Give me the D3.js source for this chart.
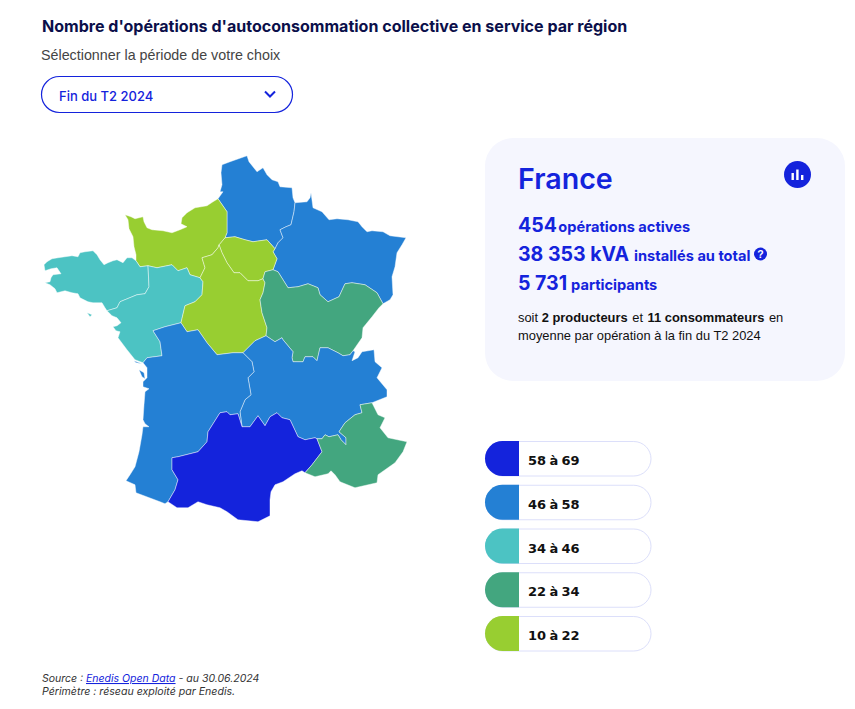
<!DOCTYPE html>
<html lang="fr">
<head>
    <meta charset="UTF-8">
    <title>Nombre d'opérations d'autoconsommation collective en service par région</title>
    <script src="https://cdn.jsdelivr.net/npm/d3@7"></script>
    <style>
        html, body { margin: 0; background: #fff; }
        svg { display: block; }
        .grot { font-family: Inter, sans-serif; }
        .arial { font-family: "Liberation Sans", sans-serif; }
    </style>
</head>
<body>
    <div id="chart"></div>
    <script>
        // Region values (estimated from the colour classes, total 454)
        const regionNames = ["Hauts-de-France", "Grand Est", "Île-de-France", "Normandie", "Bretagne", "Pays de la Loire",
            "Centre-Val de Loire", "Bourgogne-Franche-Comté", "Auvergne-Rhône-Alpes", "Nouvelle-Aquitaine", "Occitanie", "Provence-Alpes-Côte d'Azur"];
        const regionValues = [50, 48, 14, 12, 40, 38, 11, 28, 57, 55, 69, 32];
        const classBreaks = [22, 34, 46, 58];
        const classColors = ["#98ce31", "#43a67f", "#4cc3c3", "#2480d4", "#1423dc"];
        const legendLabels = ["58 à 69", "46 à 58", "34 à 46", "22 à 34", "10 à 22"];

        // Boundary traces, in map units, shared between neighbouring regions
        const coastHdF = [[218,199],[223,192],[220,192],[222,185],[221,173],[222,165],[230,162],[247,156],[249,162],[257,172],[263,168],[267,175],[272,180],[278,182],[280,187],[292,188],[293,198],[295,203]];
        const hdfGE = [[295,203],[294,212],[291,225],[286,227],[280,230],[283,238],[278,243],[275,249]];
        const hdfIDF = [[275,249],[267,240],[253,242],[245,240],[235,237],[225,238]];
        const norHdF = [[225,238],[227,233],[227,212],[218,199]];
        const geOuter = [[295,203],[307,202],[310,198],[311,193],[313,208],[322,212],[329,220],[337,219],[348,220],[358,222],[362,227],[367,232],[372,231],[383,232],[390,236],[406,238],[402,245],[397,253],[395,267],[392,277],[393,295],[390,300],[383,304]];
        const geBFC = [[383,304],[377,293],[365,285],[352,283],[345,284],[339,297],[328,302],[320,295],[318,288],[308,284],[298,287],[288,288],[278,272],[273,270]];
        const idfGE = [[273,270],[277,259],[273,252],[275,249]];
        const norIDF = [[225,238],[219,245]];
        const idfCVL = [[219,245],[222,253],[227,263],[234,273],[240,273],[248,281],[258,281],[263,279]];
        const idfBFC = [[263,279],[265,272],[273,270]];
        const norCoast = [[136,261],[136,255],[134,247],[133,237],[129,229],[128,220],[125,215],[131,217],[135,219],[143,217],[144,222],[147,228],[152,230],[163,231],[172,233],[180,230],[187,227],[181,224],[182,218],[187,213],[195,208],[207,206],[213,202],[218,199]];
        const norCVL = [[219,245],[218,248],[212,255],[202,258],[205,268],[200,278]];
        const norPdL = [[200,278],[190,275],[187,268],[178,271],[172,265],[157,268],[148,266]];
        const norBret = [[148,266],[140,267],[136,261]];
        const bretCoast = [[136,261],[132,258],[127,258],[123,263],[117,260],[113,261],[108,263],[104,265],[100,260],[97,255],[93,251],[85,252],[80,253],[78,257],[72,256],[65,257],[58,258],[52,259],[47,262],[44,265],[45,271],[51,269],[57,268],[61,274],[53,275],[51,278],[50,282],[45,283],[50,285],[55,289],[57,293],[65,291],[72,293],[78,294],[80,298],[88,302],[93,303],[102,303],[105,308],[107,311]];
        const bretPdL = [[107,311],[117,308],[120,302],[137,295],[145,294],[149,287],[148,266]];
        const pdlCoast = [[107,311],[112,316],[117,318],[121,323],[117,326],[113,327],[116,331],[120,332],[118,338],[127,350],[135,360],[143,363]];
        const pdlNA = [[143,363],[147,358],[162,356],[160,342],[153,331],[165,327],[181,323]];
        const pdlCVL = [[181,323],[185,306],[195,302],[202,295],[203,282],[200,278]];
        const cvlBFC = [[263,279],[265,283],[263,293],[260,300],[262,313],[267,328],[266,336]];
        const cvlAURA = [[266,336],[255,341],[253,343],[243,353]];
        const cvlNA = [[243,353],[233,353],[217,355],[207,343],[198,330],[187,332],[181,323]];
        const bfcEast = [[383,304],[379,308],[372,317],[363,328],[362,338],[353,351]];
        const bfcAURA = [[353,351],[350,355],[343,356],[338,353],[328,348],[320,348],[317,361],[313,357],[305,357],[303,362],[293,362],[292,358],[293,352],[283,340],[282,338],[275,342],[266,336]];
        const auraEast = [[353,351],[355,352],[352,361],[358,358],[362,352],[374,350],[375,362],[382,368],[377,378],[387,390],[387,397],[372,403]];
        const auraPACA = [[317,439],[322,439],[325,435],[329,437],[338,435],[341,440],[346,445],[346,438],[339,432],[345,423],[355,415],[362,413],[360,405],[372,403]];
        const occAURA = [[242,427],[250,427],[258,416],[265,426],[270,417],[277,413],[282,418],[290,420],[298,437],[305,440],[315,438],[317,439]];
        const naAURA = [[243,353],[252,362],[254,372],[248,378],[251,395],[245,400],[240,412],[242,427]];
        const naCoast = [[143,363],[147,368],[147,378],[143,382],[143,387],[149,389],[145,392],[144,405],[143,420],[145,424],[149,427],[143,427],[142,435],[139,452],[135,467],[130,475],[126,481],[135,485],[136,493],[160,502],[165,504],[168,502]];
        const naOcc = [[168,502],[175,490],[178,480],[172,470],[172,458],[178,457],[198,452],[207,442],[208,432],[220,413],[227,412],[230,415],[238,414],[242,427]];
        const occPACA = [[317,439],[322,452],[312,465],[305,473]];
        const occCoast = [[305,473],[302,471],[295,474],[283,482],[275,485],[271,492],[270,500],[270,516],[258,522],[238,520],[227,512],[220,508],[207,505],[198,502],[188,508],[177,508],[168,502]];
        const pacaOuter = [[372,403],[378,415],[385,418],[380,428],[388,438],[407,442],[403,452],[395,463],[378,475],[377,483],[355,488],[340,482],[335,475],[331,471],[328,474],[315,477],[305,473]];
        const islandOleron = [[139,370],[144,373],[145,379],[142,377]];
        const islandRe = [[134,361],[142,364],[136,363]];
        const islandBelle = [[87,313],[92,315],[90,317]];

        // Each ring lists its arcs; r() walks one backwards
        const r = arc => arc.slice().reverse();
        const regionRings = [
            [[coastHdF, hdfGE, hdfIDF, norHdF]],
            [[geOuter, geBFC, idfGE, r(hdfGE)]],
            [[hdfIDF, norIDF, idfCVL, idfBFC, idfGE]],
            [[norCoast, r(norHdF), norIDF, norCVL, norPdL, norBret]],
            [[bretCoast, bretPdL, norBret], [islandBelle]],
            [[pdlCoast, pdlNA, pdlCVL, norPdL, r(bretPdL)]],
            [[r(norCVL), idfCVL, cvlBFC, cvlAURA, cvlNA, pdlCVL]],
            [[r(geBFC), bfcEast, bfcAURA, r(cvlBFC), idfBFC]],
            [[r(bfcAURA), auraEast, r(auraPACA), r(occAURA), r(naAURA), r(cvlAURA)]],
            [[r(cvlNA), naAURA, r(naOcc), r(naCoast), pdlNA], [islandOleron], [islandRe]],
            [[naOcc, occAURA, occPACA, occCoast]],
            [[r(occPACA), auraPACA, pacaOuter]]
        ];

        const features = regionNames.map((name, i) => ({
            type: "Feature",
            properties: { name, value: regionValues[i] },
            geometry: {
                type: "MultiPolygon",
                coordinates: regionRings[i].map(ring => {
                    const pts = ring.flat();
                    return [[...pts, pts[0]]];
                })
            }
        }));

        const width = 855;
        const height = 709;
        const blue = "#1423dc";

        const svg = d3.select("#chart").append("svg")
            .attr("width", width)
            .attr("height", height);

        // Header
        svg.append("text").attr("class", "grot")
            .attr("x", 42).attr("y", 32)
            .attr("font-size", 16.05).attr("font-weight", 700).attr("fill", "#0b0f4a")
            .text("Nombre d'opérations d'autoconsommation collective en service par région");
        svg.append("text").attr("class", "arial")
            .attr("x", 41).attr("y", 60)
            .attr("font-size", 14.3).attr("fill", "#444")
            .text("Sélectionner la période de votre choix");

        const select = svg.append("g");
        select.append("rect")
            .attr("x", 41.5).attr("y", 76.5).attr("width", 251).attr("height", 36).attr("rx", 18)
            .attr("fill", "#fff").attr("stroke", blue).attr("stroke-width", 1.2);
        select.append("text").attr("class", "grot")
            .attr("x", 59).attr("y", 101)
            .attr("font-size", 13).attr("font-weight", 500).attr("fill", blue)
            .text("Fin du T2 2024");
        select.append("path")
            .attr("d", "M265 91.5l5 5 5-5")
            .attr("fill", "none").attr("stroke", blue).attr("stroke-width", 2);

        // Map
        const color = d3.scaleThreshold().domain(classBreaks).range(classColors);
        const projection = d3.geoIdentity()
            .fitExtent([[44, 155.5], [407, 522]], { type: "FeatureCollection", features });
        const path = d3.geoPath(projection);

        svg.append("g")
            .selectAll("path")
            .data(features)
            .join("path")
            .attr("d", path)
            .attr("fill", d => color(d.properties.value))
            .attr("stroke", "#fff")
            .attr("stroke-opacity", 0.55)
            .attr("stroke-width", 0.8)
            .attr("stroke-linejoin", "round")
            .append("title").text(d => `${d.properties.name} : ${d.properties.value}`);

        // France panel
        const panel = svg.append("g");
        panel.append("rect")
            .attr("x", 485).attr("y", 138).attr("width", 360).attr("height", 243).attr("rx", 28)
            .attr("fill", "#f5f6fe");
        panel.append("text").attr("class", "grot")
            .attr("x", 518).attr("y", 189)
            .attr("font-size", 28.6).attr("font-weight", 600).attr("fill", blue)
            .text("France");
        panel.append("circle").attr("cx", 797.5).attr("cy", 174.5).attr("r", 13.5).attr("fill", blue);
        panel.append("g").attr("fill", "#fff")
            .selectAll("rect")
            .data([[791.5, 173, 7], [796.2, 169.5, 10.5], [801, 175, 5]])
            .join("rect")
            .attr("x", d => d[0]).attr("y", d => d[1]).attr("width", 2.4).attr("height", d => d[2]);

        const statLines = [
            { y: 232, big: "454", small: "opérations actives", gap: 1.5 },
            { y: 261, big: "38 353 kVA", small: "installés au total", gap: 5 },
            { y: 290, big: "5 731", small: "participants", gap: 4 }
        ];
        statLines.forEach(s => {
            const t = panel.append("text").attr("class", "grot")
                .attr("x", 518).attr("y", s.y).attr("fill", blue).attr("font-weight", 700);
            t.append("tspan").attr("font-size", 19.5).text(s.big);
            t.append("tspan").attr("font-size", 14.6).attr("dx", s.gap).text(s.small);
        });
        panel.append("circle").attr("cx", 760.5).attr("cy", 254).attr("r", 6.5).attr("fill", blue);
        panel.append("text").attr("class", "arial")
            .attr("x", 760.5).attr("y", 258).attr("text-anchor", "middle")
            .attr("font-size", 10.5).attr("font-weight", 700).attr("fill", "#fff").text("?");

        const note1 = panel.append("text").attr("class", "arial")
            .attr("x", 518).attr("y", 322).attr("font-size", 12.9).attr("fill", "#111");
        note1.append("tspan").text("soit ");
        note1.append("tspan").attr("font-weight", 700).text("2 producteurs");
        note1.append("tspan").attr("dx", 1).text(" et ");
        note1.append("tspan").attr("font-weight", 700).attr("dx", 1).text("11 consommateurs");
        note1.append("tspan").attr("dx", 1).text(" en");
        panel.append("text").attr("class", "arial")
            .attr("x", 518).attr("y", 340).attr("font-size", 12.9).attr("fill", "#111")
            .text("moyenne par opération à la fin du T2 2024");

        // Legend
        const legendY = d3.scalePoint().domain(legendLabels).range([441, 616]);
        const legendColor = d3.scaleOrdinal().domain(legendLabels).range(classColors.slice().reverse());
        const legend = svg.append("g")
            .selectAll("g")
            .data(legendLabels)
            .join("g")
            .attr("transform", d => `translate(485,${legendY(d)})`);
        legend.append("rect")
            .attr("x", 0.5).attr("y", 0.5).attr("width", 165.5).attr("height", 34.5).attr("rx", 17.25)
            .attr("fill", "#fff").attr("stroke", "#dcdffa");
        legend.append("path")
            .attr("d", "M34 0v35H17.5a17.5 17.5 0 0 1 0-35z")
            .attr("fill", d => legendColor(d));
        legend.append("text")
            .attr("x", 43).attr("y", 24)
            .attr("font-family", "DejaVu Sans").attr("font-size", 13).attr("font-weight", 700)
            .attr("word-spacing", -1.2).attr("fill", "#111")
            .text(d => d);

        // Footer
        const foot = svg.append("g").attr("class", "grot")
            .attr("font-size", 10.5).attr("font-style", "italic").attr("fill", "#333");
        const src = foot.append("text").attr("x", 42).attr("y", 682);
        src.append("tspan").text("Source : ");
        src.append("tspan").attr("fill", blue).attr("text-decoration", "underline").text("Enedis Open Data");
        src.append("tspan").text(" - au 30.06.2024");
        foot.append("text").attr("x", 42).attr("y", 695).attr("font-size", 10.6).text("Périmètre : réseau exploité par Enedis.");
    </script>
</body>
</html>
